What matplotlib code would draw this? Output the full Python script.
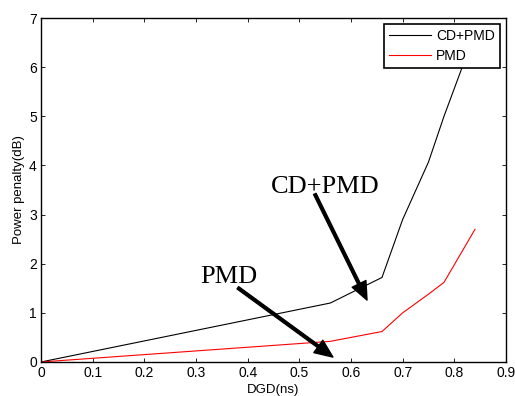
import numpy as np
import matplotlib
matplotlib.use('Agg')
import matplotlib.pyplot as plt

plt.rcParams['font.family'] = ['Liberation Sans', 'DejaVu Sans']

# DGD (ns) vs power penalty (dB)
dgd = [0.0, 0.56, 0.66, 0.70, 0.75, 0.78, 0.84]
pp_cd_pmd = [0.0, 1.20, 1.72, 2.90, 4.07, 5.00, 6.70]
pp_pmd = [0.0, 0.42, 0.62, 1.00, 1.38, 1.62, 2.70]

xticks = np.arange(0, 0.91, 0.1)
xticklabels = ['0', '0.1', '0.2', '0.3', '0.4', '0.5', '0.6', '0.7', '0.8', '0.9']
yticks = np.arange(0, 8, 1)

fig = plt.figure(figsize=(5.15, 3.96), dpi=100)
ax = fig.add_axes([0.0796, 0.0859, 0.9029, 0.8686])

ax.plot(dgd, pp_cd_pmd, color='black', lw=0.8, label='CD+PMD')
ax.plot(dgd, pp_pmd, color='red', lw=0.8, label='PMD')

ax.set_xlim(0, 0.9)
ax.set_ylim(0, 7)
ax.set_xticks(xticks)
ax.set_xticklabels(xticklabels)
ax.set_yticks(yticks)
ax.tick_params(direction='in', top=True, right=True, labelsize=10, length=3, width=0.6, pad=3)
for s in ax.spines.values():
    s.set_linewidth(1.0)

ax.set_xlabel('DGD(ns)', fontsize=9.5, labelpad=3)
ax.set_ylabel('Power penalty(dB)', fontsize=9.5, labelpad=3)

leg = ax.legend(loc='upper right', fontsize=10, frameon=True, fancybox=False,
                framealpha=1.0, borderaxespad=0.45, handlelength=3.0,
                handletextpad=0.4, borderpad=0.35, labelspacing=0.4)
leg.get_frame().set_edgecolor('black')
leg.get_frame().set_linewidth(1.2)

# arrows drawn separately so they start inside the text, then the labels
arrow = dict(facecolor='black', edgecolor='black', width=2.0, headwidth=11,
             headlength=13, shrink=0)
ax.annotate('', xy=(0.631, 1.26), xytext=(0.530, 3.42), arrowprops=arrow)
ax.annotate('', xy=(0.565, 0.10), xytext=(0.381, 1.51), arrowprops=arrow)
ax.text(0.550, 3.56, 'CD+PMD', fontsize=19, family='Liberation Serif',
        ha='center', va='center')
ax.text(0.363, 1.73, 'PMD', fontsize=19, family='Liberation Serif',
        ha='center', va='center')

fig.savefig('out.png', dpi=100)
